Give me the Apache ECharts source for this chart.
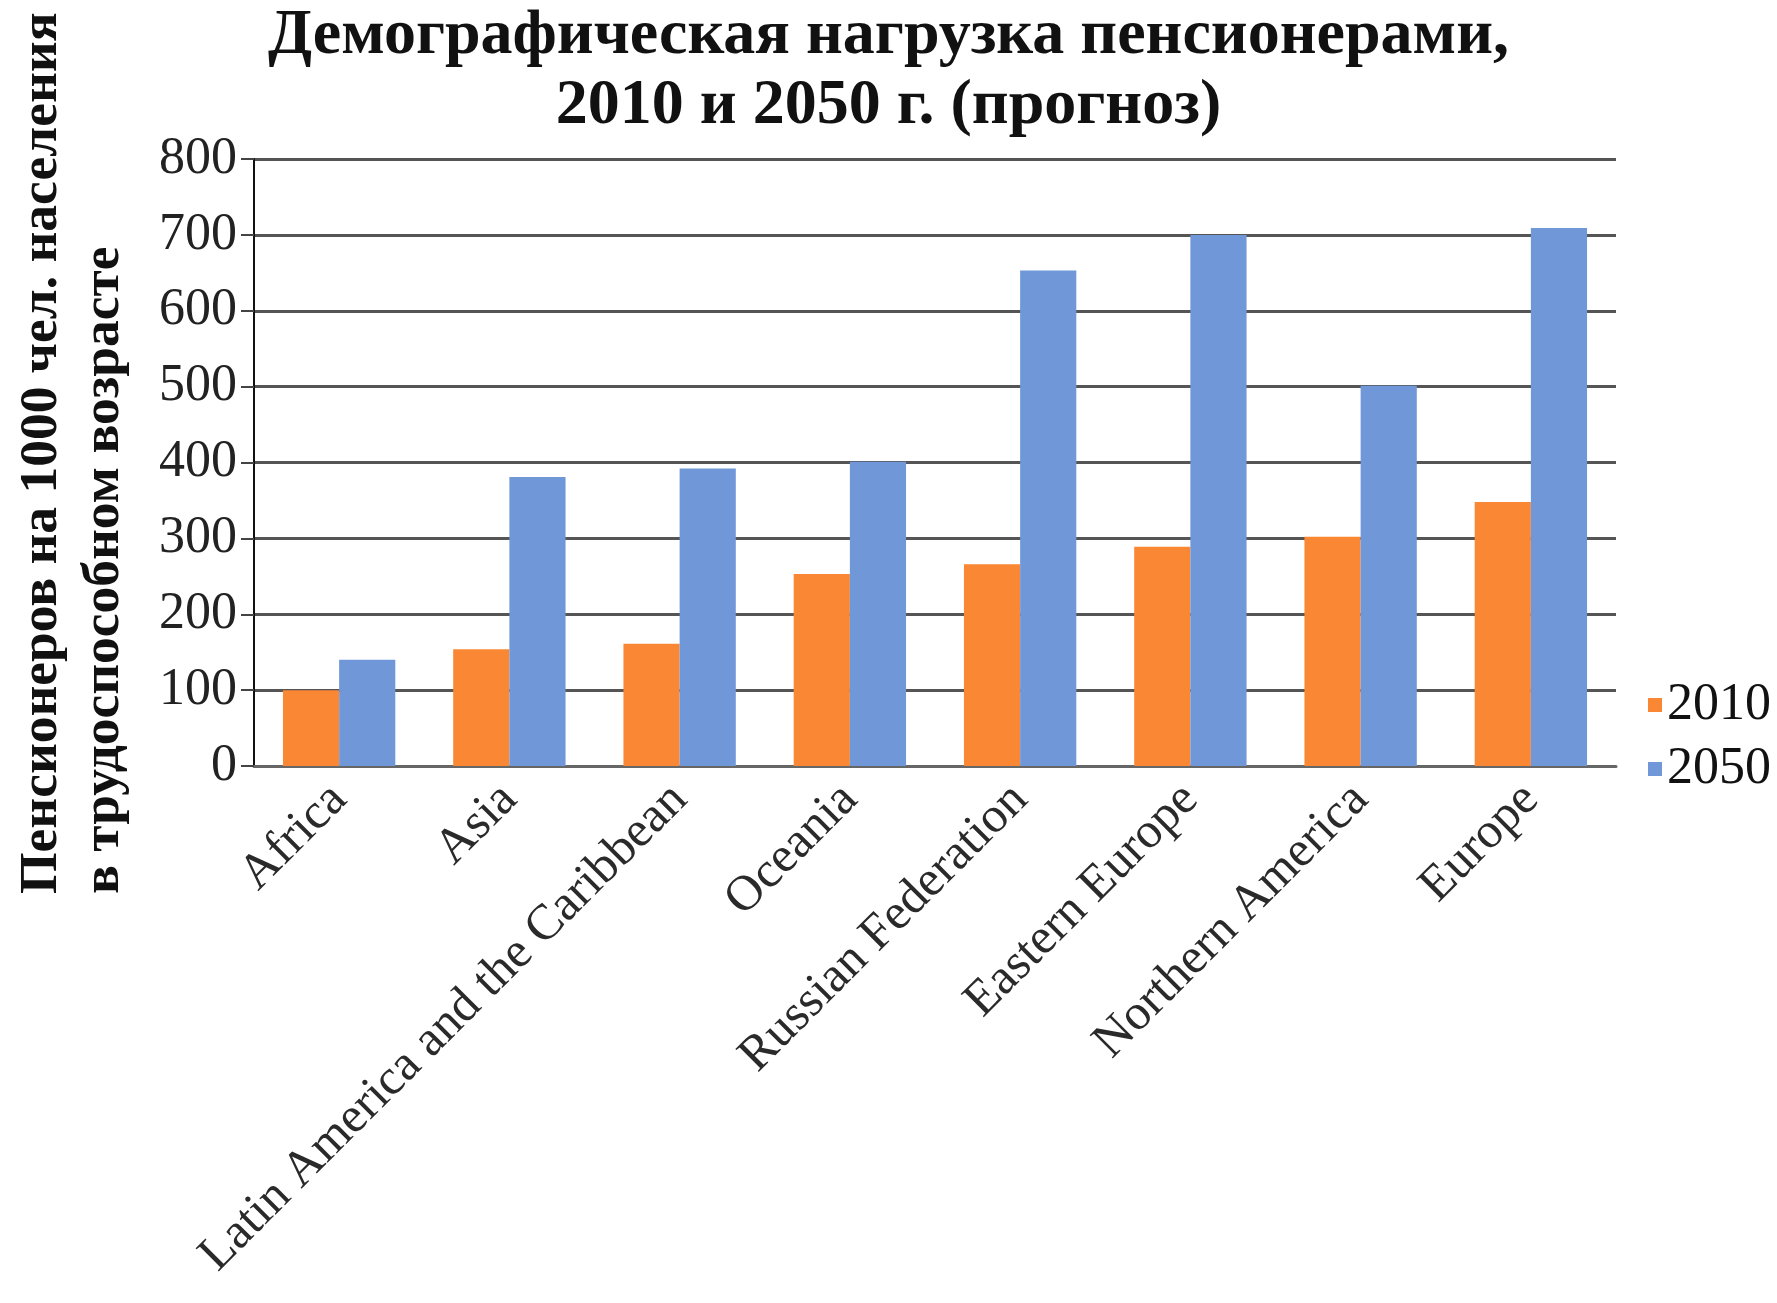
<!DOCTYPE html>
<html>
<head>
<meta charset="utf-8">
<script src="https://cdn.jsdelivr.net/npm/echarts@6/dist/echarts.min.js"></script>
<style>
html,body{margin:0;padding:0;background:#fff;}
#chart{width:1777px;height:1303px;}
</style>
</head>
<body>
<div id="chart"></div>
<script>
const categories = ["Africa", "Asia", "Latin America and the Caribbean", "Oceania", "Russian Federation", "Eastern Europe", "Northern America", "Europe"];
const values2010 = [100, 154, 161, 253, 266, 289, 302, 348];
const values2050 = [140, 381, 392, 401, 653, 700, 501, 709];
const seriesNames = ["2010", "2050"];
const titleText = "Демографическая нагрузка пенсионерами,\n2010 и 2050 г. (прогноз)";
const yAxisTitle = "Пенсионеров на 1000 чел. населения\nв трудоспособном возрасте";

const FONT = "'Liberation Serif', 'Times New Roman', serif";
const chart = echarts.init(document.getElementById('chart'));
chart.setOption({
  backgroundColor: '#ffffff',
  animation: false,
  textStyle: { fontFamily: FONT },
  title: {
    text: titleText,
    left: 'center',
    top: -4,
    textStyle: { fontFamily: FONT, fontWeight: 'bold', fontSize: 64, lineHeight: 70, color: '#111' },
    itemGap: 0
  },
  legend: {
    orient: 'vertical',
    left: 1643,
    top: 674,
    itemWidth: 14,
    itemHeight: 14,
    itemGap: 12,
    icon: 'rect',
    data: seriesNames,
    textStyle: { fontFamily: FONT, fontSize: 52, color: '#111', padding: [0, 0, 0, 0] }
  },
  grid: { left: 254, right: 161, top: 159, bottom: 537, containLabel: false },
  xAxis: {
    type: 'category',
    data: categories,
    axisLine: { show: true, lineStyle: { color: '#666', width: 3 } },
    axisTick: { show: false },
    axisLabel: { rotate: 45, margin: 26, fontFamily: FONT, fontSize: 50, color: '#2a2a2a', interval: 0 }
  },
  yAxis: {
    type: 'value',
    min: 0,
    max: 800,
    interval: 100,
    axisLine: { show: true, lineStyle: { color: '#111', width: 2 } },
    axisTick: { show: true, inside: false, length: 13, lineStyle: { color: '#444', width: 2 } },
    axisLabel: { margin: 17, fontFamily: FONT, fontSize: 52, color: '#222' },
    splitLine: { show: true, lineStyle: { color: '#555', width: 3 } }
  },
  series: [
    { name: seriesNames[0], type: 'bar', data: values2010, barGap: '0%', barCategoryGap: '34%', itemStyle: { color: '#F98733' } },
    { name: seriesNames[1], type: 'bar', data: values2050, barGap: '0%', barCategoryGap: '34%', itemStyle: { color: '#7097D8' } }
  ],
  graphic: [
    {
      type: 'text',
      x: 11,
      y: 894,
      rotation: Math.PI / 2,
      style: {
        text: yAxisTitle,
        fontFamily: FONT,
        fontWeight: 'bold',
        fontSize: 53.5,
        lineHeight: 62,
        fill: '#111',
        textAlign: 'left',
        textVerticalAlign: 'top'
      }
    }
  ]
});
</script>
</body>
</html>
